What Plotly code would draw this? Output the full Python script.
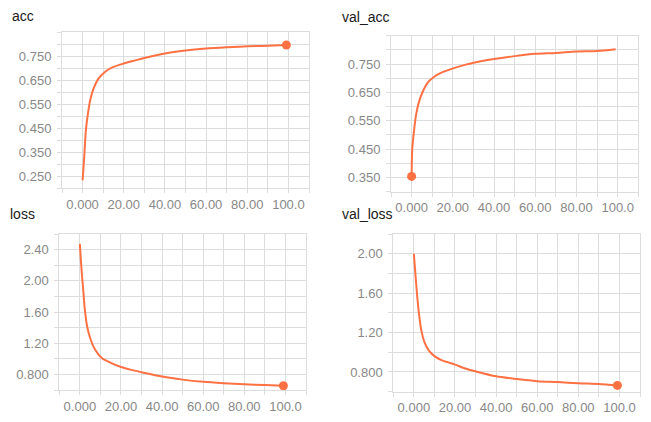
import plotly.graph_objects as go

# ---- data ----
acc_x = [0, 0.8, 1.6, 2.6, 3.7, 5.3, 7.7, 11, 14.2, 20, 25.6, 30, 40, 50, 60, 70, 80, 90, 99]
acc_y = [0.233, 0.331, 0.442, 0.511, 0.567, 0.615, 0.657, 0.686, 0.703, 0.72, 0.733, 0.743, 0.762, 0.774, 0.782, 0.7875, 0.792, 0.794, 0.797]

val_acc_x = [0, 0.3, 1.1, 2.1, 3.5, 5.6, 8, 11.3, 14.5, 19.4, 25.8, 30, 40, 50, 60, 70, 80, 90, 99]
val_acc_y = [0.354, 0.45, 0.51, 0.568, 0.615, 0.656, 0.686, 0.707, 0.72, 0.733, 0.747, 0.755, 0.768, 0.778, 0.786, 0.789, 0.794, 0.796, 0.802]

loss_x = [0, 0.8, 1.6, 2.4, 3.5, 5.2, 7.3, 10.5, 15.3, 20, 25, 30, 40, 50, 60, 70, 80, 90, 99]
loss_y = [2.473, 2.15, 1.894, 1.636, 1.421, 1.25, 1.121, 1.014, 0.945, 0.895, 0.858, 0.828, 0.772, 0.733, 0.705, 0.687, 0.673, 0.663, 0.655]

val_loss_x = [0, 0.8, 1.6, 2.4, 3.5, 5.2, 7.3, 10.5, 13.7, 17, 20, 25, 30, 40, 50, 60, 70, 80, 90, 99]
val_loss_y = [2.0, 1.78, 1.576, 1.407, 1.237, 1.10, 1.017, 0.953, 0.918, 0.895, 0.875, 0.836, 0.807, 0.757, 0.729, 0.707, 0.698, 0.686, 0.678, 0.664]

titles = ["acc", "val_acc", "loss", "val_loss"]

x_tickvals = [0, 20, 40, 60, 80, 100]
x_ticktext = ["0.000", "20.00", "40.00", "60.00", "80.00", "100.0"]

acc_tickvals = [0.25, 0.35, 0.45, 0.55, 0.65, 0.75]
acc_ticktext = ["0.250", "0.350", "0.450", "0.550", "0.650", "0.750"]
val_acc_tickvals = [0.35, 0.45, 0.55, 0.65, 0.75]
val_acc_ticktext = ["0.350", "0.450", "0.550", "0.650", "0.750"]
loss_tickvals = [0.8, 1.2, 1.6, 2.0, 2.4]
loss_ticktext = ["0.800", "1.20", "1.60", "2.00", "2.40"]
val_loss_tickvals = [0.8, 1.2, 1.6, 2.0]
val_loss_ticktext = ["0.800", "1.20", "1.60", "2.00"]

# ---- styling / layout ----
LINE = "#FF7043"
GRID = "#DDDDDD"
OFF = 8  # default page body margin
W, H = 651 - OFF, 422 - OFF

panels = [
    (acc_x, acc_y, -1, (62, 309), (32.3, 188.3), (0.2, 0.85), (0.2, 0.05), acc_tickvals, acc_ticktext, (10, 16.5)),
    (val_acc_x, val_acc_y, 0, (391, 638.3), (35.7, 191.7), (0.3, 0.85), (0.3, 0.05), val_acc_tickvals, val_acc_ticktext, (340, 17)),
    (loss_x, loss_y, -1, (59.3, 306), (234, 390), (0.6, 2.6), (0.6, 0.2), loss_tickvals, loss_ticktext, (8, 214)),
    (val_loss_x, val_loss_y, -1, (393.3, 640), (234, 391.7), (0.6, 2.2), (0.6, 0.2), val_loss_tickvals, val_loss_ticktext, (340, 214)),
]

fig = go.Figure()
layout = dict(
    width=W, height=H,
    margin=dict(l=0, r=0, t=0, b=0),
    paper_bgcolor="white", plot_bgcolor="white",
    showlegend=False,
    font=dict(family="Liberation Sans, Arial, sans-serif", size=13, color="#888888"),
    annotations=[],
)

for i, (xs, ys, mi, xpx, ypx, yr, yminor, tv, tt, tpos) in enumerate(panels):
    n = "" if i == 0 else str(i + 1)
    xa, ya = "x" + n, "y" + n
    fig.add_trace(go.Scatter(x=xs, y=ys, mode="lines", line=dict(color=LINE, width=2, shape="spline", smoothing=0.8),
                             xaxis=xa, yaxis=ya, hoverinfo="skip"))
    fig.add_trace(go.Scatter(x=[xs[mi]], y=[ys[mi]], mode="markers", marker=dict(color=LINE, size=9),
                             xaxis=xa, yaxis=ya, hoverinfo="skip"))
    common = dict(showgrid=True, gridcolor=GRID, gridwidth=1, zeroline=False,
                  showline=True, mirror=True, linecolor=GRID, linewidth=1,
                  ticks="outside", ticklen=4, tickcolor=GRID, tickfont=dict(size=13, color="#888888"))
    x0, x1 = xpx[0] - OFF, xpx[1] - OFF
    y0, y1 = ypx[0] - OFF, ypx[1] - OFF
    layout["xaxis" + n] = dict(
        domain=[x0 / W, x1 / W], anchor=ya, range=[-10, 110],
        tickmode="array", tickvals=x_tickvals, ticktext=x_ticktext,
        minor=dict(tick0=0, dtick=10, showgrid=True, gridcolor=GRID, ticks="outside", ticklen=4, tickcolor=GRID),
        **common)
    layout["yaxis" + n] = dict(
        domain=[1 - y1 / H, 1 - y0 / H], anchor=xa, range=list(yr),
        tickmode="array", tickvals=tv, ticktext=tt, ticklabelstandoff=3,
        minor=dict(tick0=yminor[0], dtick=yminor[1], showgrid=True, gridcolor=GRID, ticks="outside", ticklen=4, tickcolor=GRID),
        **common)
    layout["annotations"].append(dict(
        text=titles[i], xref="paper", yref="paper", x=max(tpos[0] - OFF, 0) / W, y=1 - (tpos[1] - OFF) / H,
        xanchor="left", yanchor="middle", showarrow=False,
        font=dict(family="Liberation Sans, Arial, sans-serif", size=14, color="#1a1a1a")))

fig.update_layout(**layout)
fig.write_html("out.html")
